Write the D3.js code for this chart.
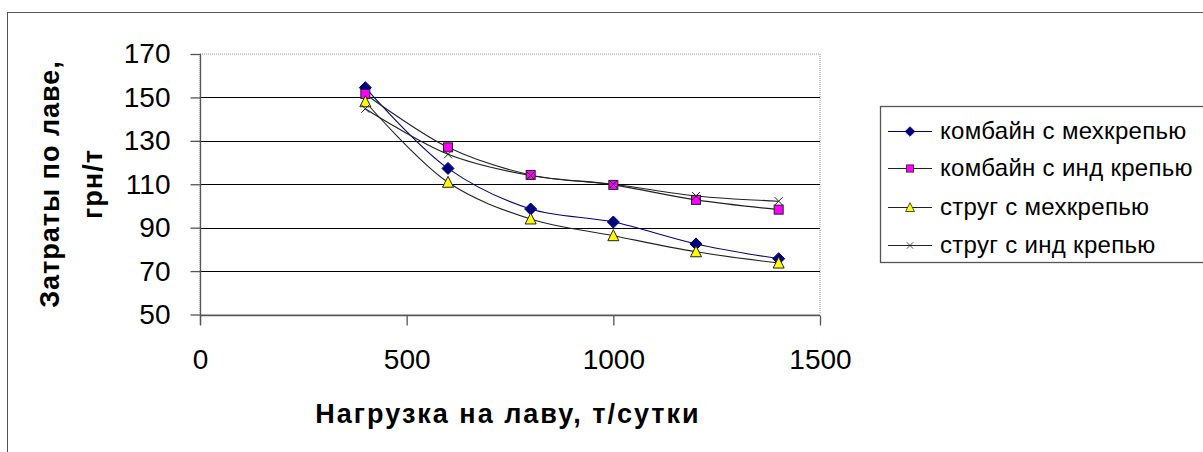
<!DOCTYPE html>
<html>
<head>
<meta charset="utf-8">
<script src="https://cdn.jsdelivr.net/npm/d3@7"></script>
<style>
  html, body { margin: 0; padding: 0; background: #fff; }
  svg { display: block; font-family: "Liberation Sans", Arial, sans-serif; }
</style>
</head>
<body>
<svg id="chart" width="1203" height="452"></svg>
<script>
// Load per face (t/day) and cost per face (UAH/t) for four mining schemes
const loads = [400, 600, 800, 1000, 1200, 1400];
const seriesNames = [
  "комбайн с мехкрепью",
  "комбайн с инд крепью",
  "струг с мехкрепью",
  "струг с инд крепью"
];
const combineMech = [154.5, 117.3, 98.6, 92.6, 82.5, 75.7];
const combineInd  = [151.6, 127.0, 114.3, 109.7, 102.8, 98.3];
const plowMech    = [148.0, 110.9, 94.0, 86.3, 78.9, 73.7];
const plowInd     = [144.8, 123.8, 114.0, 110.0, 104.6, 102.2];
const xTicks = [0, 500, 1000, 1500];
const yTicks = [50, 70, 90, 110, 130, 150, 170];
const xTitle = "Нагрузка на лаву, т/сутки";
const yTitleLines = ["Затраты по лаве,", "грн/т"];

const svg = d3.select("#chart");

// chart frame
svg.append("rect")
  .attr("x", 7.5).attr("y", 12.5)
  .attr("width", 1210).attr("height", 460)
  .attr("fill", "#fff").attr("stroke", "#555").attr("stroke-width", 1);

const x = d3.scaleLinear().domain([0, 1500]).range([200, 820]);
const y = d3.scaleLinear().domain([50, 170]).range([314.5, 54]);

// plot area border (light dotted)
svg.append("rect")
  .attr("x", x(0)).attr("y", y(170))
  .attr("width", x(1500) - x(0)).attr("height", y(50) - y(170))
  .attr("fill", "none").attr("stroke", "#999").attr("stroke-width", 1)
  .attr("stroke-dasharray", "1,1");

// horizontal gridlines
svg.append("g").selectAll("line")
  .data(yTicks.filter(v => v > 50 && v < 170))
  .join("line")
  .attr("x1", x(0)).attr("x2", x(1500))
  .attr("y1", d => Math.round(y(d)) + 0.5).attr("y2", d => Math.round(y(d)) + 0.5)
  .attr("stroke", "#000").attr("stroke-width", 1.2);

// axes
const yAxis = d3.axisLeft(y).tickValues(yTicks).tickFormat(d3.format("d")).tickSize(10).tickPadding(18);
const xAxis = d3.axisBottom(x).tickValues(xTicks).tickFormat(d3.format("d")).tickSize(10).tickPadding(24);

const gy = svg.append("g").attr("transform", `translate(${x(0) + 0.5},0)`).call(yAxis);
const gx = svg.append("g").attr("transform", `translate(0,${Math.round(y(50)) + 0.5})`).call(xAxis);

[gx, gy].forEach(g => {
  g.select(".domain").attr("stroke", "#555").attr("stroke-width", 1.3);
  g.selectAll(".tick line").attr("stroke", "#555").attr("stroke-width", 1.3);
  g.selectAll(".tick text")
    .attr("fill", "#000")
    .style("font-family", "'Liberation Sans', Arial, sans-serif")
    .style("font-size", "28px");
});
gx.select(".domain").attr("d", `M${x(0)},0H${x(1500)}`);
gy.select(".domain").attr("d", `M0,${y(170)}V${y(50) + 10}`);
gy.selectAll(".tick text").attr("dx", "-2");

// axis titles
svg.append("text")
  .attr("x", 508).attr("y", 423)
  .attr("text-anchor", "middle")
  .style("font-size", "27px").style("font-weight", "bold")
  .style("letter-spacing", "2px")
  .text(xTitle);

const yt = svg.append("text")
  .attr("transform", "translate(0,184) rotate(-90)")
  .attr("text-anchor", "middle")
  .style("font-size", "27px").style("font-weight", "bold")
  .style("letter-spacing", "1px");
yTitleLines.forEach((t, i) => {
  yt.append("tspan").attr("x", 0).attr("y", 59 + i * 43).text(t);
});

// series
const series = [
  { name: seriesNames[0], values: combineMech, line: "#000080", marker: "diamond" },
  { name: seriesNames[1], values: combineInd,  line: "#222",    marker: "square" },
  { name: seriesNames[2], values: plowMech,    line: "#222",    marker: "triangle" },
  { name: seriesNames[3], values: plowInd,     line: "#222",    marker: "cross" }
];

const line = d3.line()
  .x(d => x(d[0])).y(d => y(d[1]))
  .curve(d3.curveCatmullRom.alpha(0.5));

svg.append("g").selectAll("path")
  .data(series)
  .join("path")
  .attr("d", s => line(loads.map((l, i) => [l, s.values[i]])))
  .attr("fill", "none")
  .attr("stroke", s => s.line)
  .attr("stroke-width", 1.1);

function drawMarker(g, type) {
  if (type === "diamond") {
    g.append("path").attr("d", "M0,-6L6,0L0,6L-6,0Z")
      .attr("fill", "#000080").attr("stroke", "#000080");
  } else if (type === "square") {
    g.append("rect").attr("x", -4.5).attr("y", -4.5).attr("width", 9).attr("height", 9)
      .attr("fill", "#ff00ff").attr("stroke", "#222").attr("stroke-width", 1);
  } else if (type === "triangle") {
    g.append("path").attr("d", "M0,-6L5.5,5L-5.5,5Z")
      .attr("fill", "#ffff00").attr("stroke", "#222").attr("stroke-width", 1);
  } else if (type === "cross") {
    g.append("path").attr("d", "M-4,-4L4,4M-4,4L4,-4")
      .attr("fill", "none").attr("stroke", "#222").attr("stroke-width", 1);
  }
}

series.forEach(s => {
  svg.append("g").selectAll("g")
    .data(loads.map((l, i) => [l, s.values[i]]))
    .join("g")
    .attr("transform", d => `translate(${x(d[0])},${y(d[1])})`)
    .each(function () { drawMarker(d3.select(this), s.marker); });
});

// legend
const legend = svg.append("g");
legend.append("rect")
  .attr("x", 880.5).attr("y", 106.5).attr("width", 340).attr("height", 156)
  .attr("fill", "#fff").attr("stroke", "#555").attr("stroke-width", 1.3);

const rowY = [131, 168, 207, 245];
series.forEach((s, i) => {
  const row = legend.append("g").attr("transform", `translate(0,${rowY[i]})`);
  row.append("line").attr("x1", 888).attr("x2", 932).attr("y1", 0.5).attr("y2", 0.5)
    .attr("stroke", s.line).attr("stroke-width", 1.1);
  const m = row.append("g").attr("transform", "translate(910,0.5) scale(0.8)");
  drawMarker(m, s.marker);
  row.append("text").attr("x", 940).attr("y", 0).attr("dy", "0.35em")
    .style("font-size", "24px").style("letter-spacing", "0.3px").attr("fill", "#000")
    .text(s.name);
});
</script>
</body>
</html>
